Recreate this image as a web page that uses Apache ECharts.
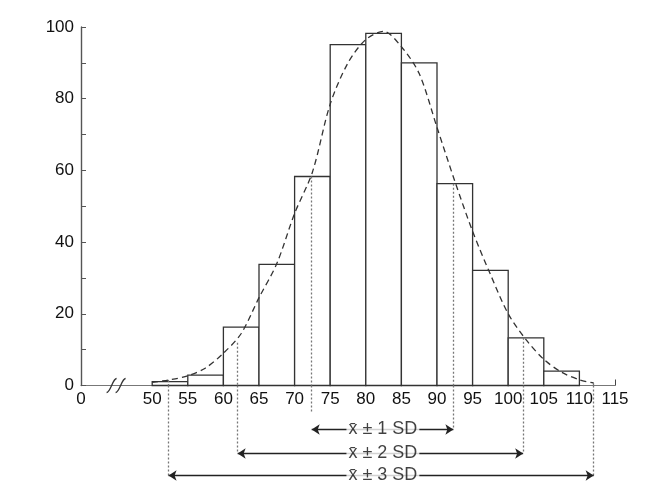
<!DOCTYPE html>
<html><head><meta charset="utf-8">
<script src="https://cdn.jsdelivr.net/npm/echarts@6/dist/echarts.min.js"></script>
<style>html,body{margin:0;padding:0;background:#fff}#c{width:667px;height:502px}</style>
</head><body><div id="c"></div>
<script>
// ---- data ----
const binStarts = [50, 55, 60, 65, 70, 75, 80, 85, 90, 95, 100, 105];
const binCounts = [1.1, 2.9, 16.3, 33.8, 58.3, 95.1, 98.2, 90.0, 56.3, 32.1, 13.3, 4.0];
const binWidth = 5;
const curveX = [50, 52.5, 55, 57.5, 60, 62.5, 65, 67.5, 70, 72.5, 75, 77.5, 80, 82.5, 85, 87.5, 90, 92.5, 95, 97.5, 100, 102.5, 105, 107.5, 110, 112];
const curveY = [0.9, 1.6, 2.7, 4.9, 9.0, 14.5, 24.5, 34.0, 48.0, 59.5, 78.5, 90.0, 96.5, 98.8, 94.5, 87.0, 72.0, 57.0, 43.0, 31.0, 20.0, 12.8, 7.3, 3.7, 1.6, 0.7];
const xTickValues = [40, 50, 55, 60, 65, 70, 75, 80, 85, 90, 95, 100, 105, 110, 115];
const xTickLabels = ['0', '50', '55', '60', '65', '70', '75', '80', '85', '90', '95', '100', '105', '110', '115'];
const yTickValues = [0, 20, 40, 60, 80, 100];
const yMinorTicks = [0, 10, 20, 30, 40, 50, 60, 70, 80, 90, 100];
const breakAt = [45];
const meanValue = 82.4;
const sdLower = [72.4, 62.0, 52.3];
const sdUpper = [92.3, 102.1, 112.0];
const sdLowerTop = [58.3, 11.9, 1.5];
const sdUpperTop = [56.3, 13.3, 0.6];
const sdLabels = ['x\u0304 \u00b1 1 SD', 'x\u0304 \u00b1 2 SD', 'x\u0304 \u00b1 3 SD'];

// ---- layout (annotation rows below the axis, in px below the baseline) ----
const rowDepth = [44, 68, 90];
const lowerDropEnd = [28, 68, 90];
const upperDropEnd = [43, 68, 90];

const FONT = "'Liberation Sans', Arial, Helvetica, sans-serif";
const INK = '#222';
const chart = echarts.init(document.getElementById('c'), null, {renderer: 'canvas'});

const barData = binStarts.map((s, i) => [s, binCounts[i]]);
const curveData = curveX.map((x, i) => [x, curveY[i]]);

const dropsTop = [];
const dropsBottom = [];
const arrows = [];
const labels = [];
for (let i = 0; i < 3; i++) {
  dropsTop.push({coords: [[sdLower[i], sdLowerTop[i]], [sdLower[i], 0]]});
  dropsTop.push({coords: [[sdUpper[i], sdUpperTop[i]], [sdUpper[i], 0]]});
  dropsBottom.push({coords: [[sdLower[i], 0], [sdLower[i], lowerDropEnd[i]]]});
  dropsBottom.push({coords: [[sdUpper[i], 0], [sdUpper[i], upperDropEnd[i]]]});
  arrows.push({coords: [[sdLower[i], rowDepth[i]], [sdUpper[i], rowDepth[i]]]});
  labels.push({value: [meanValue, rowDepth[i]], name: sdLabels[i]});
}

const option = {
  backgroundColor: '#fff',
  animation: false,
  grid: [
    {left: 81, right: 52, top: 27, bottom: 116.5},
    {left: 81, right: 52, top: 385.5, height: 100}
  ],
  xAxis: [
    {
      type: 'value', min: 40, max: 115, gridIndex: 0,
      splitLine: {show: false},
      axisLine: {show: true, lineStyle: {color: '#777', width: 1.2}},
      axisTick: {show: true, inside: true, length: 6, customValues: [115], lineStyle: {color: '#444'}},
      axisLabel: {
        customValues: xTickValues,
        formatter: v => xTickLabels[xTickValues.indexOf(v)] || '',
        color: '#111', fontFamily: FONT, fontSize: 17, margin: 5
      }
    },
    {type: 'value', min: 40, max: 115, gridIndex: 1, show: false}
  ],
  yAxis: [
    {
      type: 'value', min: 0, max: 100, gridIndex: 0,
      splitLine: {show: false},
      axisLine: {show: true, lineStyle: {color: '#555', width: 1.4}},
      axisTick: {show: true, inside: true, length: 5, customValues: yMinorTicks, lineStyle: {color: '#555'}},
      axisLabel: {customValues: yTickValues, color: '#111', fontFamily: FONT, fontSize: 17, margin: 7}
    },
    {type: 'value', min: 0, max: 100, inverse: true, gridIndex: 1, show: false}
  ],
  series: [
    {
      type: 'custom', xAxisIndex: 0, yAxisIndex: 0, z: 2,
      data: barData,
      encode: {x: 0, y: 1},
      renderItem: function (params, api) {
        const x0 = api.value(0), h = api.value(1);
        const p0 = api.coord([x0, h]);
        const p1 = api.coord([x0 + binWidth, 0]);
        return {
          type: 'rect',
          shape: {x: p0[0], y: p0[1], width: p1[0] - p0[0], height: p1[1] - p0[1]},
          style: {fill: '#fff', stroke: '#333', lineWidth: 1.3}
        };
      }
    },
    {
      type: 'lines', coordinateSystem: 'cartesian2d', xAxisIndex: 0, yAxisIndex: 0, z: 3,
      data: dropsTop, symbol: 'none',
      lineStyle: {color: '#777', width: 1.3, type: [2, 2], opacity: 1}
    },
    {
      type: 'line', xAxisIndex: 0, yAxisIndex: 0, z: 4,
      data: curveData, smooth: 0.3, showSymbol: false, symbol: 'none',
      lineStyle: {color: '#333', width: 1.3, type: [6, 4]}
    },
    {
      type: 'custom', xAxisIndex: 0, yAxisIndex: 0, z: 5,
      data: breakAt.map(b => [b, 0]),
      encode: {x: 0, y: 1},
      renderItem: function (params, api) {
        const p = api.coord([api.value(0), api.value(1)]);
        const mk = dx => ({
          type: 'bezierCurve',
          shape: {x1: p[0] + dx - 5, y1: p[1] + 7, x2: p[0] + dx + 5, y2: p[1] - 7,
                  cpx1: p[0] + dx - 1, cpy1: p[1] + 7, cpx2: p[0] + dx + 1, cpy2: p[1] - 7},
          style: {stroke: '#333', lineWidth: 1.3, fill: null}
        });
        return {type: 'group', children: [mk(-5), mk(4)]};
      }
    },
    {
      type: 'lines', coordinateSystem: 'cartesian2d', xAxisIndex: 1, yAxisIndex: 1, z: 3,
      data: dropsBottom, symbol: 'none',
      lineStyle: {color: '#777', width: 1.3, type: [2, 2], opacity: 1}
    },
    {
      type: 'lines', coordinateSystem: 'cartesian2d', xAxisIndex: 1, yAxisIndex: 1, z: 4,
      data: arrows, symbol: ['arrow', 'arrow'], symbolSize: 8,
      lineStyle: {color: INK, width: 1.3, opacity: 1, type: 'solid'}
    },
    {
      type: 'scatter', xAxisIndex: 1, yAxisIndex: 1, z: 6,
      data: labels, symbolSize: 1,
      itemStyle: {color: 'rgba(0,0,0,0)'},
      label: {
        show: true, position: 'inside', formatter: p => p.name,
        color: '#111', fontFamily: FONT, fontSize: 18,
        backgroundColor: '#fff', padding: [1, 2]
      }
    }
  ]
};
chart.setOption(option);
</script>
</body></html>
